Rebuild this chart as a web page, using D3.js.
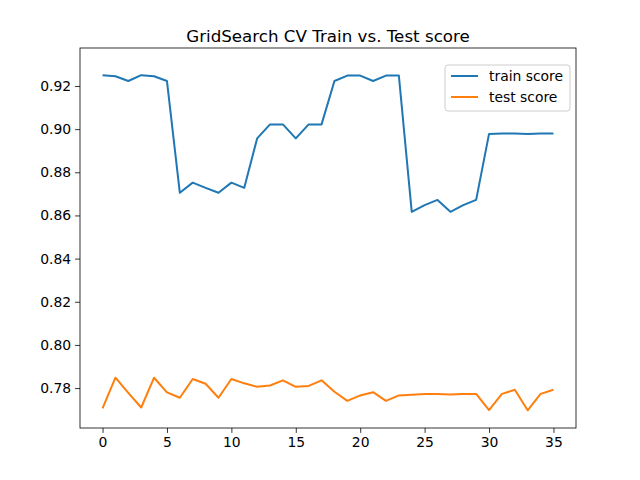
<!DOCTYPE html>
<html><head><meta charset="utf-8">
<script src="https://cdn.jsdelivr.net/npm/d3@7"></script>
<style>body{margin:0;background:#fff}</style></head>
<body><svg id="c" width="640" height="480"></svg>
<script>
const trainScore=[0.925,0.9245,0.9223,0.925,0.9245,0.9223,0.8705,0.8752,0.8728,0.8705,0.8752,0.8728,0.8957,0.9022,0.9022,0.8957,0.9022,0.9022,0.9223,0.9248,0.9248,0.9223,0.9248,0.9248,0.8617,0.8648,0.8672,0.8617,0.8648,0.8672,0.8978,0.898,0.898,0.8978,0.898,0.898];
const testScore=[0.7706,0.7848,0.7778,0.771,0.7848,0.778,0.7755,0.7842,0.782,0.7755,0.7842,0.7822,0.7806,0.7812,0.7836,0.7806,0.781,0.7836,0.7783,0.7741,0.7766,0.7781,0.7741,0.7766,0.7769,0.7772,0.7773,0.777,0.7773,0.7773,0.7698,0.7773,0.7792,0.7697,0.7773,0.7792];
const xTicks=[0,5,10,15,20,25,30,35];
const yTicks=[0.78,0.80,0.82,0.84,0.86,0.88,0.90,0.92];
const svg=d3.select("#c");
const L=80,R=576,T=48,B=428;
const x=d3.scaleLinear().domain([-1.75,36.75]).range([L,R]);
const y=d3.scaleLinear().domain([0.7615,0.9376]).range([B,T]);
const font="DejaVu Sans";
svg.append("g").attr("transform",`translate(0,${B})`).call(d3.axisBottom(x).tickValues(xTicks).tickFormat(d3.format("d")).tickSizeOuter(0).tickSize(4.9).tickPadding(4))
 .call(g=>{g.select(".domain").remove();g.selectAll("line").attr("stroke-width",0.8);g.selectAll("text").attr("font-family",font).attr("font-size",13.9).attr("fill","#000");});
svg.append("g").attr("transform",`translate(${L},0)`).call(d3.axisLeft(y).tickValues(yTicks).tickFormat(d3.format(".2f")).tickSizeOuter(0).tickSize(4.9).tickPadding(4))
 .call(g=>{g.select(".domain").remove();g.selectAll("line").attr("stroke-width",0.8);g.selectAll("text").attr("font-family",font).attr("font-size",13.9).attr("fill","#000");});
const line=d3.line().x((d,i)=>x(i)).y(d=>y(d));
[[trainScore,"#1f77b4"],[testScore,"#ff7f0e"]].forEach(([d,c])=>svg.append("path").datum(d).attr("d",line).attr("fill","none").attr("stroke",c).attr("stroke-width",2).attr("stroke-linejoin","round"));
svg.append("rect").attr("x",L).attr("y",T).attr("width",R-L).attr("height",B-T).attr("fill","none").attr("stroke","#000").attr("stroke-width",0.8);
svg.append("text").attr("x",(L+R)/2).attr("y",T-6).attr("text-anchor","middle").attr("font-family",font).attr("font-size",16.7).text("GridSearch CV Train vs. Test score");
const lg=svg.append("g").attr("transform","translate(445,65)");
lg.append("rect").attr("width",125).attr("height",46).attr("rx",3).attr("fill","#fff").attr("fill-opacity",0.8).attr("stroke","#ccc");
[["train score","#1f77b4"],["test score","#ff7f0e"]].forEach(([t,c],i)=>{
 lg.append("line").attr("x1",6).attr("x2",33).attr("y1",11+i*21).attr("y2",11+i*21).attr("stroke",c).attr("stroke-width",2);
 lg.append("text").attr("x",44).attr("y",16+i*21).attr("font-family",font).attr("font-size",13.9).text(t);
});
</script></body></html>
